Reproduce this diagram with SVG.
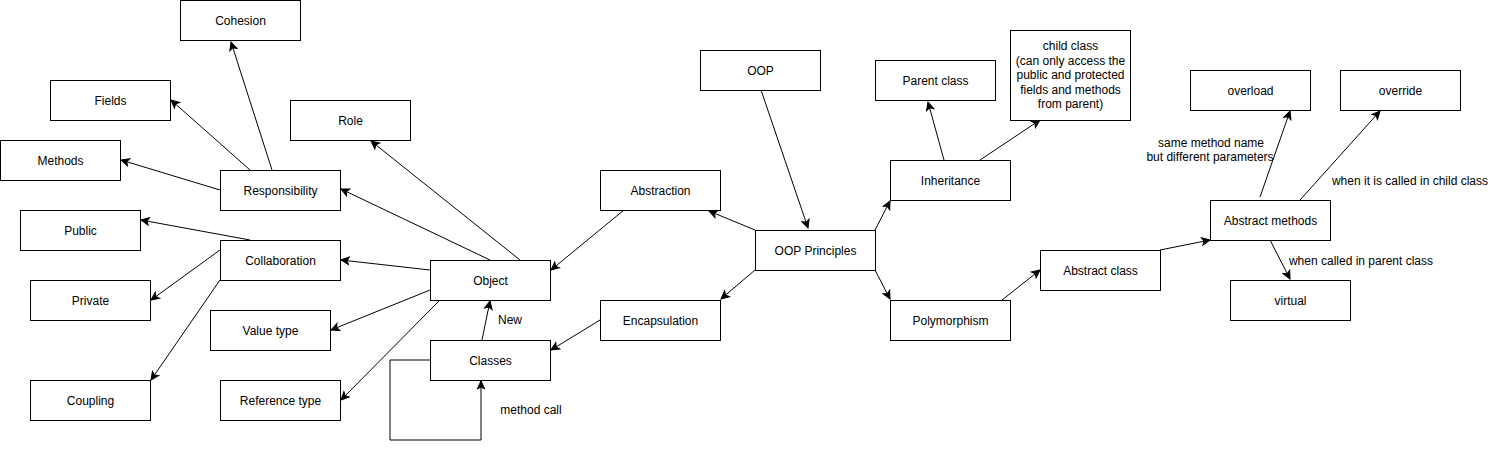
<svg xmlns="http://www.w3.org/2000/svg" width="1496" height="449" viewBox="0 0 1496 449">
<defs>
<style>
.n rect{fill:#fff;stroke:#000;stroke-width:1}
text{font-family:"Liberation Sans",Arial,Helvetica,sans-serif;font-size:12px;fill:#000;text-anchor:middle;dominant-baseline:central}
.e line,.e path{stroke:#000;stroke-width:1;fill:none;marker-end:url(#ah)}
.lbl{fill:#fff}
</style>
<marker id="ah" markerUnits="userSpaceOnUse" markerWidth="10" markerHeight="10" viewBox="0 0 10 10" refX="9" refY="5" orient="auto">
<path d="M1,1.2 L9,5 L1,8.8 L3,5 Z" fill="#000" stroke="#000" stroke-width="1"/>
</marker>
</defs>
<rect width="1496" height="449" fill="#fff"/>
<g id="edges" class="e">
<line x1="272" y1="170" x2="231" y2="42"/>
<line x1="250" y1="170" x2="171" y2="100"/>
<line x1="220" y1="190" x2="121" y2="160"/>
<line x1="520" y1="260" x2="371" y2="141"/>
<line x1="490" y1="260" x2="341" y2="189"/>
<line x1="430" y1="270" x2="341" y2="260"/>
<line x1="430" y1="290" x2="331" y2="330"/>
<line x1="440" y1="300" x2="341" y2="400"/>
<line x1="250" y1="240" x2="141" y2="220"/>
<line x1="220" y1="250" x2="151" y2="300"/>
<line x1="220" y1="280" x2="151" y2="380"/>
<line x1="482" y1="340" x2="490" y2="301"/>
<path d="M430,360 L390,360 L390,440 L481,440 L481,381"/>
<line x1="624" y1="210" x2="551" y2="270"/>
<line x1="600" y1="320" x2="551" y2="350"/>
<line x1="761" y1="90" x2="808" y2="228"/>
<line x1="755" y1="230" x2="709" y2="211"/>
<line x1="755" y1="270" x2="721" y2="299"/>
<line x1="875" y1="230" x2="890" y2="201"/>
<line x1="875" y1="270" x2="890" y2="299"/>
<line x1="944" y1="160" x2="928" y2="102"/>
<line x1="980" y1="160" x2="1040" y2="120"/>
<line x1="1002" y1="300" x2="1040" y2="270"/>
<line x1="1160" y1="250" x2="1210" y2="240"/>
<line x1="1260" y1="197" x2="1290" y2="111"/>
<line x1="1300" y1="200" x2="1380" y2="111"/>
<line x1="1270" y1="240" x2="1290" y2="279"/>
</g>
<g id="edge-labels">
<text x="510" y="320">New</text>
<text x="531" y="410">method call</text>
<text x="1211" y="143">same method name</text>
<text x="1210" y="157">but different parameters</text>
<text x="1410" y="181">when it is called in child class</text>
<text x="1361" y="261">when called in parent class</text>
</g>
<g id="cohesion" class="n"><rect x="180.5" y="0.5" width="120" height="40"/><text x="240.5" y="20.5">Cohesion</text></g>
<g id="fields" class="n"><rect x="50.5" y="80.5" width="120" height="40"/><text x="110.5" y="100.5">Fields</text></g>
<g id="methods" class="n"><rect x="0.5" y="140.5" width="120" height="40"/><text x="60.5" y="160.5">Methods</text></g>
<g id="role" class="n"><rect x="290.5" y="100.5" width="120" height="40"/><text x="350.5" y="120.5">Role</text></g>
<g id="responsibility" class="n"><rect x="220.5" y="170.5" width="120" height="40"/><text x="280.5" y="190.5">Responsibility</text></g>
<g id="public" class="n"><rect x="20.5" y="210.5" width="120" height="40"/><text x="80.5" y="230.5">Public</text></g>
<g id="collaboration" class="n"><rect x="220.5" y="240.5" width="120" height="40"/><text x="280.5" y="260.5">Collaboration</text></g>
<g id="private" class="n"><rect x="30.5" y="280.5" width="120" height="40"/><text x="90.5" y="300.5">Private</text></g>
<g id="coupling" class="n"><rect x="30.5" y="380.5" width="120" height="40"/><text x="90.5" y="400.5">Coupling</text></g>
<g id="valuetype" class="n"><rect x="210.5" y="310.5" width="120" height="40"/><text x="270.5" y="330.5">Value type</text></g>
<g id="referencetype" class="n"><rect x="220.5" y="380.5" width="120" height="40"/><text x="280.5" y="400.5">Reference type</text></g>
<g id="object" class="n"><rect x="430.5" y="260.5" width="120" height="40"/><text x="490.5" y="280.5">Object</text></g>
<g id="classes" class="n"><rect x="430.5" y="340.5" width="120" height="40"/><text x="490.5" y="360.5">Classes</text></g>
<g id="abstraction" class="n"><rect x="600.5" y="170.5" width="120" height="40"/><text x="660.5" y="190.5">Abstraction</text></g>
<g id="encapsulation" class="n"><rect x="600.5" y="300.5" width="120" height="40"/><text x="660.5" y="320.5">Encapsulation</text></g>
<g id="oop" class="n"><rect x="700.5" y="50.5" width="120" height="40"/><text x="760.5" y="70.5">OOP</text></g>
<g id="oopprinciples" class="n"><rect x="755.5" y="230.5" width="120" height="40"/><text x="815.5" y="250.5">OOP Principles</text></g>
<g id="parentclass" class="n"><rect x="875.5" y="60.5" width="120" height="40"/><text x="935.5" y="80.5">Parent class</text></g>
<g id="inheritance" class="n"><rect x="890.5" y="160.5" width="120" height="40"/><text x="950.5" y="180.5">Inheritance</text></g>
<g id="polymorphism" class="n"><rect x="890.5" y="300.5" width="120" height="40"/><text x="950.5" y="320.5">Polymorphism</text></g>
<g id="childclass" class="n"><rect x="1010.5" y="30.5" width="120" height="90"/>
<text x="1070.5" y="46">child class</text>
<text x="1070.5" y="60.5">(can only access the</text>
<text x="1070.5" y="75">public and protected</text>
<text x="1070.5" y="89.5">fields and methods</text>
<text x="1070.5" y="104">from parent)</text></g>
<g id="abstractclass" class="n"><rect x="1040.5" y="250.5" width="120" height="40"/><text x="1100.5" y="270.5">Abstract class</text></g>
<g id="abstractmethods" class="n"><rect x="1210.5" y="200.5" width="120" height="40"/><text x="1270.5" y="220.5">Abstract methods</text></g>
<g id="overload" class="n"><rect x="1190.5" y="70.5" width="120" height="40"/><text x="1250.5" y="90.5">overload</text></g>
<g id="override" class="n"><rect x="1340.5" y="70.5" width="120" height="40"/><text x="1400.5" y="90.5">override</text></g>
<g id="virtual" class="n"><rect x="1230.5" y="280.5" width="120" height="40"/><text x="1290.5" y="300.5">virtual</text></g>
</svg>
